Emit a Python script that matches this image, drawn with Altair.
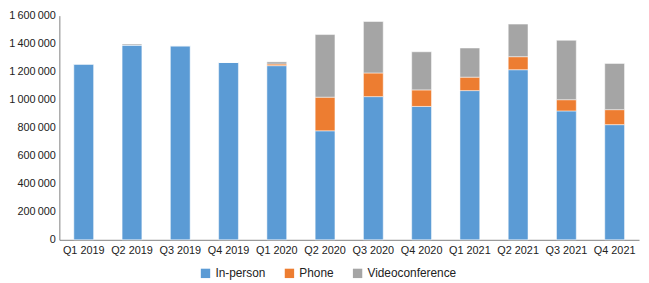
import altair as alt
import pandas as pd

quarters = ["Q1 2019", "Q2 2019", "Q3 2019", "Q4 2019", "Q1 2020", "Q2 2020",
            "Q3 2020", "Q4 2020", "Q1 2021", "Q2 2021", "Q3 2021", "Q4 2021"]
in_person = [1255000, 1390000, 1385000, 1266000, 1243000, 778000,
             1022000, 952000, 1065000, 1214000, 920000, 822000]
phone = [0, 0, 0, 0, 12000, 240000, 169000, 118000, 96000, 93000, 80000, 107000]
video = [0, 8000, 0, 0, 15000, 447000, 367000, 272000, 208000, 233000, 424000, 330000]
series = ["In-person", "Phone", "Videoconference"]
colors = ["#5B9BD5", "#ED7D31", "#A5A5A5"]

rows = []
for i, q in enumerate(quarters):
    for k, (s, vals) in enumerate(zip(series, [in_person, phone, video])):
        rows.append({"quarter": q, "type": s, "value": vals[i], "order": k})
df = pd.DataFrame(rows)

chart = alt.Chart(df).mark_bar(stroke="white", strokeWidth=0.5).encode(
    x=alt.X("quarter:N", sort=quarters, title=None,
            scale=alt.Scale(paddingInner=0.59, paddingOuter=0.3),
            axis=alt.Axis(labelAngle=0, ticks=False, domainColor="#808080",
                          labelFontSize=11, labelColor="#222", labelPadding=5)),
    y=alt.Y("value:Q", title=None, stack="zero",
            scale=alt.Scale(domain=[0, 1600000]),
            axis=alt.Axis(values=list(range(0, 1600001, 200000)), grid=False,
                          ticks=False, domainColor="#808080", labelFontSize=11,
                          labelColor="#222", labelPadding=4,
                          labelExpr="replace(format(datum.value, ','), /,/g, '\u2009')")),
    color=alt.Color("type:N", sort=series,
                    scale=alt.Scale(domain=series, range=colors),
                    legend=alt.Legend(title=None, orient="none", direction="horizontal",
                                      legendX=142, legendY=255, symbolType="square",
                                      symbolSize=90, labelFontSize=12, labelColor="#222",
                                      columnPadding=18, symbolStrokeWidth=0)),
    order=alt.Order("order:Q"),
).properties(
    width=587, height=227,
    autosize=alt.AutoSizeParams(type="none"),
    padding={"left": 52, "top": 6, "right": 2, "bottom": 42},
).configure(font="Liberation Sans").configure_view(strokeWidth=0, strokeOpacity=0)

chart.save("out.html", embed_options={"renderer": "svg", "actions": False})
